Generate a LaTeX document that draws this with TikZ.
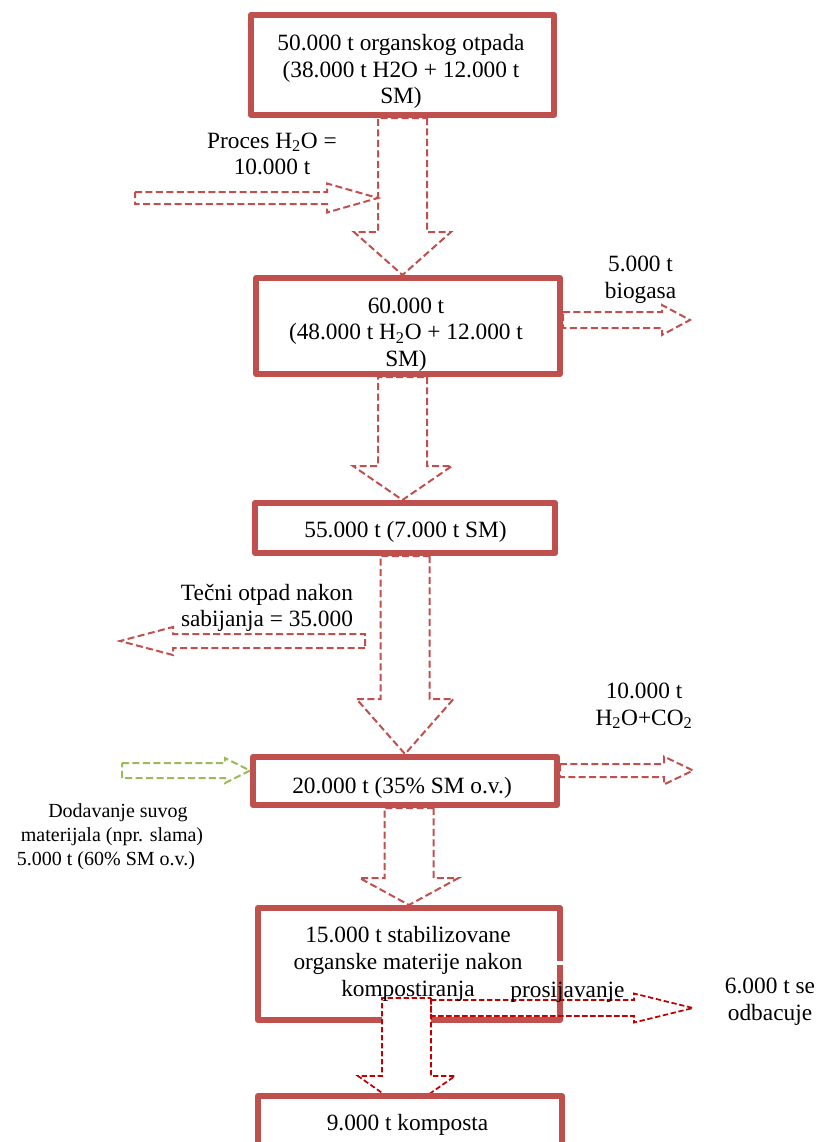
\documentclass[tikz,border=0pt]{standalone}
\usepackage{fontspec}
\setmainfont{Liberation Serif}
\usetikzlibrary{calc}

\definecolor{boxred}{HTML}{C0504D}
\definecolor{darkred}{HTML}{C00000}
\definecolor{leafgreen}{HTML}{9BBB59}

\tikzset{
  stage/.style={draw=boxred, line width=4.5pt, line join=round, fill=white,
                inner sep=0pt, outer sep=2.25pt},
  txt/.style={align=center, inner sep=0pt, font=\fontsize{17.5pt}{20pt}\selectfont},
  smalltxt/.style={align=center, inner sep=0pt, font=\fontsize{15pt}{18pt}\selectfont},
  flow/.style={draw=boxred, line width=1.5pt, dash pattern=on 5.25pt off 2.6pt, fill=white},
  flowdark/.style={draw=darkred, line width=1.3pt, dash pattern=on 4pt off 2pt},
  flowgreen/.style={draw=leafgreen, line width=1.5pt, dash pattern=on 5.25pt off 2.6pt, fill=white},
}

% Outlined block arrow: [style]{start}{tip}{shaft half-width}{head half-width}{head length}
% (widths and length given in drawing units of 0.75pt)
\newcommand\blockarrow[6][]{%
  \pgfmathsetmacro\baShaft{#4*0.75}%
  \pgfmathsetmacro\baHead{#5*0.75}%
  \pgfmathsetmacro\baLen{#6*0.75}%
  \coordinate (ba-base) at ($(#3)!\baLen pt!(#2)$);
  \draw[#1] ($(#2)!\baShaft pt!90:(#3)$)
    -- ($(ba-base)!\baShaft pt!90:(#3)$)
    -- ($(ba-base)!\baHead pt!90:(#3)$)
    -- (#3)
    -- ($(ba-base)!\baHead pt!-90:(#3)$)
    -- ($(ba-base)!\baShaft pt!-90:(#3)$)
    -- ($(#2)!\baShaft pt!-90:(#3)$)
    -- cycle;}

\begin{document}
\begin{tikzpicture}[x=0.75pt, y=-0.75pt]
\useasboundingbox (0,0) rectangle (819,1142);

% process stages
\node[stage, minimum width=227.25pt, minimum height=75pt] (b1) at (402.5,65) {};
\node[stage, minimum width=228pt, minimum height=72pt] (b2) at (408,326) {};
\node[stage, minimum width=225pt, minimum height=37.5pt] (b3) at (405,528) {};
\node[stage, minimum width=228pt, minimum height=36pt] (b4) at (405,781) {};
\node[stage, minimum width=226.5pt, minimum height=84pt] (b5) at (409,964) {};
% small break in the right border of the composting stage
\fill[white] ($(b5.east)+(-8,-3)$) rectangle ($(b5.east)+(2,0.5)$);

% main flow downwards
\coordinate (a1s) at (b1.south);
\coordinate (a1t) at (b2.north -| a1s);
\blockarrow[flow]{a1s}{a1t}{24.5}{48.5}{43}

\coordinate (a2s) at (b2.south -| b1.south);
\coordinate (a2t) at (b3.north -| a2s);
\blockarrow[flow]{a2s}{a2t}{24.5}{49.5}{34}

\coordinate (a3s) at (b3.south);
\coordinate (a3t) at (b4.north);
\blockarrow[flow]{a3s}{a3t}{24.5}{48.5}{55}

\coordinate (a4s) at (b4.south -| b5.north);
\coordinate (a4t) at (b5.north);
\blockarrow[flow]{a4s}{a4t}{24.5}{49.5}{27}

% process water added
\coordinate (a8s) at (135,198);
\coordinate (a8t) at (378,198);
\blockarrow[flow]{a8s}{a8t}{6}{14.5}{51}

% biogas out
\coordinate (a7s) at ($(b2.east)+(0,-6)$);
\coordinate (a7t) at ($(a7s)+(127,0)$);
\blockarrow[flow]{a7s}{a7t}{8}{15}{28}

% liquid waste after pressing
\coordinate (a9s) at (365,641);
\coordinate (a9t) at (120,641);
\blockarrow[flow]{a9s}{a9t}{7}{14}{53}

% dry material added
\coordinate (a10s) at (122,770.5);
\coordinate (a10t) at (b4.west |- a10s);
\blockarrow[flowgreen]{a10s}{a10t}{7.5}{12.5}{25}

% water and CO2 out
\coordinate (a11s) at (b4.east |- a10s);
\coordinate (a11t) at (693,770.5);
\blockarrow[flow]{a11s}{a11t}{6.5}{14}{29}

% screening: compost down, rejects to the right
\coordinate (a5s) at ($(b5.south)+(-2.5,-25)$);
\coordinate (a5t) at (406.5,1110);
\blockarrow[flowdark, fill=white]{a5s}{a5t}{24.5}{48.5}{34}

\coordinate (a6s) at ($(b5.south)+(22,-15)$);
\coordinate (a6t) at ($(b5.east)+(130,44)$);
\blockarrow[flowdark]{a6s}{a6t}{8}{14.5}{59}

\node[stage, minimum width=228pt, minimum height=55.5pt] (b6) at (410,1133) {};

% stage texts
\node[txt] (t1) at (401,71.5) {50.000 t organskog otpada\\(38.000 t H2O + 12.000 t\\SM)};
\node[txt] (t2) at (406,334.5) {60.000 t\\(48.000 t H\textsubscript{2}O + 12.000 t\\SM)};
\node[txt] (t3) at (405.5,531.5) {55.000 t (7.000 t SM)};
\node[txt] (t4) at (402,787.5) {20.000 t (35\% SM o.v.)};
\node[txt] (t5) at (408,964) {15.000 t stabilizovane\\organske materije nakon\\kompostiranja};
\node[txt] (t6) at (407.5,1124.5) {9.000 t komposta};

% side labels
\node[txt] (l1) at (272,154) {Proces H\textsubscript{2}O =\\10.000 t};
\node[txt] (l2) at (640.5,280) {5.000 t\\biogasa};
\node[txt] (l3) at (267,608) {Tečni otpad nakon\\sabijanja = 35.000};
\node[txt] (l4) at (644,706) {10.000 t\\H\textsubscript{2}O+CO\textsubscript{2}};
\node[smalltxt] (l5) at (112,837) {\hspace*{9pt}Dodavanje suvog\\materijala (npr. slama)\\5.000 t (60\% SM o.v.)\hspace*{9pt}};
\node[txt] (l6) at (770,1001.5) {6.000 t se\\odbacuje};
\node[txt] (l7) at (567.5,992.5) {prosijavanje};
\end{tikzpicture}
\end{document}
